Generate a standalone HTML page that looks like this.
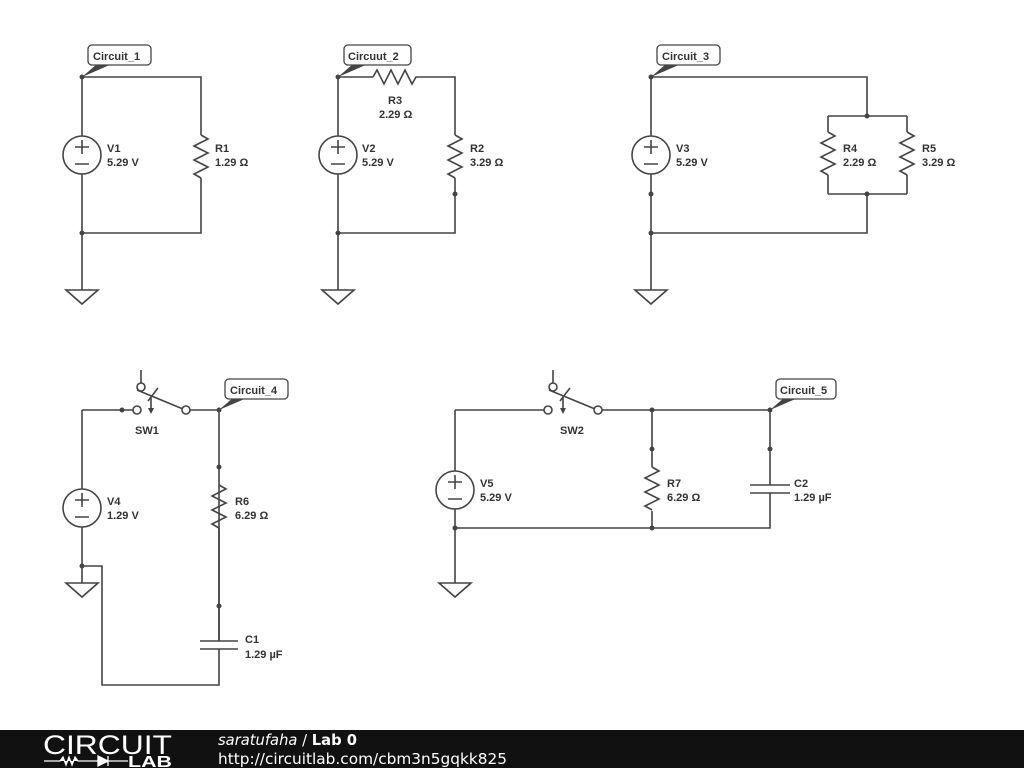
<!DOCTYPE html>
<html><head><meta charset="utf-8"><style>
html,body{margin:0;padding:0;background:#fff;width:1024px;height:768px;overflow:hidden}
svg{display:block}
text{font-family:"Liberation Sans",sans-serif;font-size:11px;font-weight:bold;fill:#333}
.w{stroke:#444;stroke-width:1.6;fill:none}
</style></head><body>
<svg width="1024" height="768" viewBox="0 0 1024 768">
<defs>
<g id="rv"><polyline class="w" points="0,0 0,0 7,4 -7,11 7,18 -7,25 7,32 -7,39 0,43"/></g>
<g id="vs"><circle cx="0" cy="0" r="19" fill="#fff" stroke="#444" stroke-width="1.6"/><path class="w" d="M-7,-8 H7 M0,-15 V-1 M-7,9 H7"/></g>
<g id="gnd"><polygon points="-16,0 16,0 0,14" fill="#fff" stroke="#444" stroke-width="1.6"/></g>
</defs>
<g fill="#444">
<!-- Circuit 1 -->
<path class="w" d="M82,77 V136 M82,174 V290 M82,77 H201 V135 M201,178 V233 H82"/>
<use href="#rv" x="201" y="135"/>
<use href="#vs" x="82" y="155"/>
<use href="#gnd" x="82" y="290"/>
<circle cx="82" cy="233" r="2.5"/>
<text x="107" y="152">V1</text><text x="107" y="166">5.29 V</text>
<text x="215" y="152">R1</text><text x="215" y="166">1.29 Ω</text>
<!-- Circuit 2 -->
<path class="w" d="M338,77 V136 M338,174 V290 M338,77 H373 M420,77 H455 V135 M455,178 V233 H338"/>
<polyline class="w" points="373,77 377,70 384,84 391,70 398,84 405,70 412,84 416,77 420,77"/>
<use href="#rv" x="455" y="135"/>
<use href="#vs" x="338" y="155"/>
<use href="#gnd" x="338" y="290"/>
<circle cx="338" cy="233" r="2.5"/><circle cx="455" cy="194" r="2.5"/>
<text x="388" y="104">R3</text><text x="379" y="118">2.29 Ω</text>
<text x="362" y="152">V2</text><text x="362" y="166">5.29 V</text>
<text x="470" y="152">R2</text><text x="470" y="166">3.29 Ω</text>
<!-- Circuit 3 -->
<path class="w" d="M651,77 V136 M651,174 V290 M651,77 H867 V116 M828,116 H907 M828,116 V132 M828,175 V194 M907,116 V132 M907,175 V194 M828,194 H907 M867,194 V233 H651"/>
<use href="#rv" x="828" y="132"/><use href="#rv" x="907" y="132"/>
<use href="#vs" x="651" y="155"/>
<use href="#gnd" x="651" y="290"/>
<circle cx="867" cy="116" r="2.5"/><circle cx="867" cy="194" r="2.5"/><circle cx="651" cy="194" r="2.5"/><circle cx="651" cy="233" r="2.5"/>
<text x="676" y="152">V3</text><text x="676" y="166">5.29 V</text>
<text x="843" y="152">R4</text><text x="843" y="166">2.29 Ω</text>
<text x="922" y="152">R5</text><text x="922" y="166">3.29 Ω</text>
<!-- Circuit 4 -->
<path class="w" d="M82,410 H133 M82,410 V489 M82,527 V583 M82,566 H102 V685 H219 V649 M219,641 V485 M190,410 H219 V485"/>
<use href="#rv" x="219" y="485"/>
<path class="w" d="M200,641 H238 M200,649 H238 M219,528 V641"/>
<use href="#vs" x="82" y="508"/>
<use href="#gnd" x="82" y="583"/>
<circle cx="122" cy="410" r="2.5"/><circle cx="82" cy="566" r="2.5"/><circle cx="219" cy="410" r="2.5"/><circle cx="219" cy="467" r="2.5"/><circle cx="219" cy="606" r="2.5"/>
<path class="w" d="M141,370 V383 M137,390 L183,409 M151,397 V410 M148,401 L158,388"/>
<polygon points="148,408 154,408 151,414"/>
<circle cx="141" cy="387" r="4" fill="#fff" stroke="#444" stroke-width="1.6"/>
<circle cx="137" cy="410" r="4" fill="#fff" stroke="#444" stroke-width="1.6"/>
<circle cx="186" cy="410" r="4" fill="#fff" stroke="#444" stroke-width="1.6"/>
<text x="135" y="434">SW1</text>
<text x="107" y="505">V4</text><text x="107" y="519">1.29 V</text>
<text x="235" y="505">R6</text><text x="235" y="519">6.29 Ω</text>
<text x="245" y="643">C1</text><text x="245" y="658">1.29 µF</text>
<!-- Circuit 5 -->
<path class="w" d="M455,410 H544 M602,410 H770 M455,410 V471 M455,509 V583 M455,528 H770 V493 M770,485 V410 M652,410 V467 M652,511 V528"/>
<use href="#rv" x="652" y="467"/>
<path class="w" d="M750,485 H790 M750,493 H790"/>
<use href="#vs" x="455" y="490"/>
<use href="#gnd" x="455" y="583"/>
<circle cx="652" cy="410" r="2.5"/><circle cx="770" cy="410" r="2.5"/><circle cx="652" cy="449" r="2.5"/><circle cx="770" cy="449" r="2.5"/><circle cx="455" cy="528" r="2.5"/><circle cx="652" cy="528" r="2.5"/>
<path class="w" d="M553,370 V383 M549,390 L595,409 M563,397 V410 M560,401 L570,388"/>
<polygon points="560,408 566,408 563,414"/>
<circle cx="553" cy="387" r="4" fill="#fff" stroke="#444" stroke-width="1.6"/>
<circle cx="548" cy="410" r="4" fill="#fff" stroke="#444" stroke-width="1.6"/>
<circle cx="598" cy="410" r="4" fill="#fff" stroke="#444" stroke-width="1.6"/>
<text x="560" y="434">SW2</text>
<text x="480" y="487">V5</text><text x="480" y="501">5.29 V</text>
<text x="667" y="487">R7</text><text x="667" y="501">6.29 Ω</text>
<text x="794" y="487">C2</text><text x="794" y="501">1.29 µF</text>
<!-- labels -->
<g>
<polygon points="82,77 97,64 112,64"/><circle cx="82" cy="77" r="2.5"/>
<rect x="88" y="45" width="63" height="20" rx="4" fill="#fff" stroke="#444" stroke-width="1.3"/>
<text x="93" y="60">Circuit_1</text>
<polygon points="338,77 353,64 368,64"/><circle cx="338" cy="77" r="2.5"/>
<rect x="344" y="45" width="67" height="20" rx="4" fill="#fff" stroke="#444" stroke-width="1.3"/>
<text x="348" y="60">Circuut_2</text>
<polygon points="651,77 666,64 681,64"/><circle cx="651" cy="77" r="2.5"/>
<rect x="657" y="45" width="63" height="20" rx="4" fill="#fff" stroke="#444" stroke-width="1.3"/>
<text x="662" y="60">Circuit_3</text>
<polygon points="219,410 234,397 249,397"/>
<rect x="225" y="379" width="63" height="20" rx="4" fill="#fff" stroke="#444" stroke-width="1.3"/>
<text x="230" y="394">Circuit_4</text>
<polygon points="770,410 785,397 800,397"/>
<rect x="776" y="379" width="60" height="20" rx="4" fill="#fff" stroke="#444" stroke-width="1.3"/>
<text x="780" y="394">Circuit_5</text>
</g>
</g>
<!-- footer -->
<rect x="0" y="730" width="1024" height="38" fill="#111"/>
<text x="43" y="754" textLength="129" lengthAdjust="spacingAndGlyphs" style="font-size:27px;font-weight:normal;fill:#fff">CIRCUIT</text>
<path d="M44,761 H60 L63,757 L66,765 L69,757 L72,765 L75,757 L78,761 H98 M98,756 V766 L108,761 Z M108,756 V766 M108,761 H128" stroke="#fff" stroke-width="1.3" fill="#fff"/>
<text x="128" y="767" textLength="44" lengthAdjust="spacingAndGlyphs" style="font-size:16px;fill:#fff">LAB</text>
<text x="218" y="745" textLength="139" lengthAdjust="spacingAndGlyphs" style="font-size:15px;font-weight:normal;fill:#fff;font-family:'DejaVu Sans',sans-serif"><tspan font-style="italic">saratufaha</tspan> / <tspan font-weight="bold">Lab 0</tspan></text>
<text x="218" y="764" textLength="289" lengthAdjust="spacingAndGlyphs" style="font-size:15px;font-weight:normal;fill:#fff;font-family:'DejaVu Sans',sans-serif">http://circuitlab.com/cbm3n5gqkk825</text>
</svg>
</body></html>
